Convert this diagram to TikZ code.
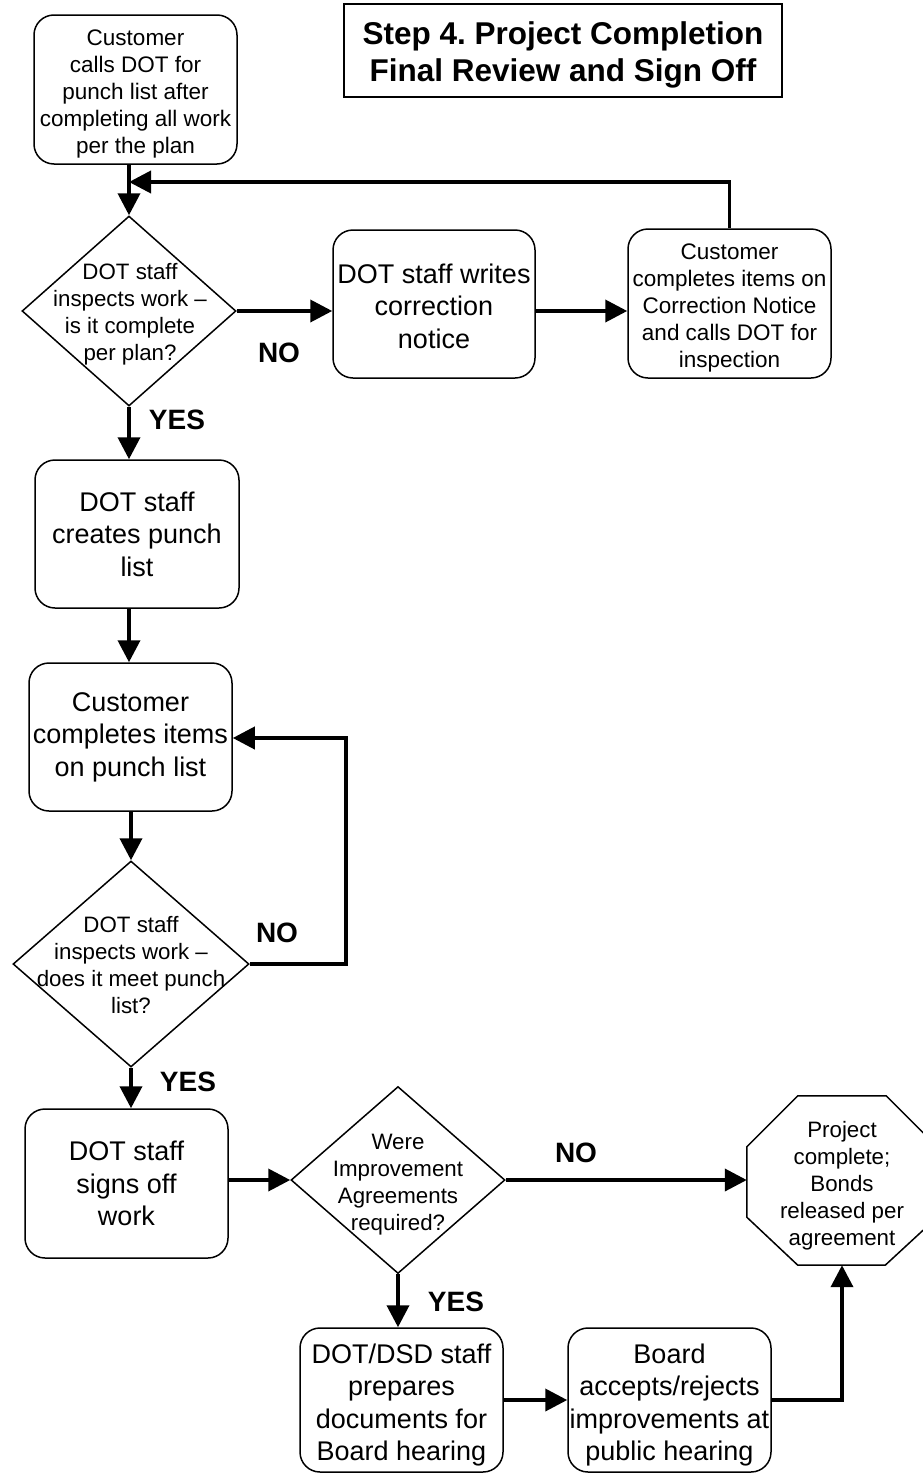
\documentclass[tikz,border=0pt]{standalone}
\usepackage{fontspec}
\setmainfont{Liberation Sans}
\usetikzlibrary{shapes.geometric,arrows.meta,calc}
\frenchspacing
\begin{document}
\begin{tikzpicture}[x=1pt,y=-1pt,
  box/.style={draw, line width=1.5pt, rounded corners=20pt, align=center, inner sep=0pt,
    font=\fontsize{27}{32.5}\selectfont},
  boxs/.style={box, font=\fontsize{22.5}{27}\selectfont},
  dia/.style={draw, diamond, line width=1.5pt, inner sep=0pt},
  dtext/.style={align=center, inner sep=0pt, font=\fontsize{22.3}{27}\selectfont},
  lab/.style={font=\bfseries\fontsize{28}{30}\selectfont, inner sep=0pt},
  conn/.style={line width=3.8pt, -{Triangle[length=22pt,width=22pt]}},
]
\useasboundingbox (0,0) rectangle (922,1475);

% title
\node[draw, line width=1.5pt, minimum width=438pt, minimum height=93pt, inner sep=0pt,
  align=center, font=\bfseries\fontsize{31.5}{37}\selectfont] (title) at (563,50.5)
  {\rule{0pt}{31pt}Step 4. Project Completion\\Final Review and Sign Off};

% nodes
\node[boxs, minimum width=203pt, minimum height=149pt] (b1) at (135.5,89.5)
  {\rule{0pt}{24pt}Customer\\calls DOT for\\punch list after\\completing all work\\per the plan};
\node[dia, minimum width=214pt, minimum height=190pt] (d1) at (129,311) {};
\node[dtext] (d1t) at (130,314) {DOT staff\\inspects work --\\is it complete\\per plan?};
\node[box, minimum width=202pt, minimum height=148pt] (b2) at (434,304)
  {\rule{0pt}{24pt}DOT staff writes\\correction\\notice};
\node[boxs, minimum width=203pt, minimum height=149pt] (b3) at (729.5,303.5)
  {\rule{0pt}{24pt}Customer\\completes items on\\Correction Notice\\and calls DOT for\\inspection};
\node[box, minimum width=204pt, minimum height=148pt] (b4) at (137,534)
  {DOT staff\\creates punch\\list};
\node[box, minimum width=203pt, minimum height=148pt] (b5) at (130.5,737)
  {Customer\\completes items\\on punch list};
\node[dia, minimum width=236pt, minimum height=206pt] (d2) at (131,964) {};
\node[dtext] (d2t) at (131,965) {DOT staff\\inspects work --\\does it meet punch\\list?};
\node[box, minimum width=203pt, minimum height=149pt] (b6) at (126.5,1183.5)
  {DOT staff\\signs off\\work};
\node[dia, minimum width=214pt, minimum height=187pt] (d3) at (398,1180) {};
\node[dtext] (d3t) at (398,1185) {Were\\Improvement\\Agreements\\required?};
\node[minimum width=190pt, minimum height=169pt, inner sep=0pt] (oct) at (842,1180.5) {};
\node[dtext] (octt) at (842,1186) {Project\\complete;\\Bonds\\released per\\agreement};
\draw[line width=1.5pt]
  ($(oct.north west)+(51,0)$) -- ($(oct.north east)+(-51,0)$) -- ($(oct.north east)+(0,51)$)
  -- ($(oct.south east)+(0,-48)$) -- ($(oct.south east)+(-52,0)$) -- ($(oct.south west)+(51,0)$)
  -- ($(oct.south west)+(0,-48)$) -- ($(oct.north west)+(0,51)$) -- cycle;
\node[box, minimum width=203pt, minimum height=144pt] (b7) at (401.5,1400)
  {\rule{0pt}{30pt}DOT/DSD staff\\prepares\\documents for\\Board hearing};
\node[box, minimum width=203pt, minimum height=144pt] (b8) at (669.5,1400)
  {\rule{0pt}{30pt}Board\\accepts/rejects\\improvements at\\public hearing};

% labels
\node[lab] (no1) at (279,353) {NO};
\node[lab] (yes1) at (177,420) {YES};
\node[lab] (no2) at (277,933) {NO};
\node[lab] (yes2) at (188,1082) {YES};
\node[lab] (no3) at (576,1153) {NO};
\node[lab] (yes3) at (456,1302) {YES};

% connectors
\coordinate (j1) at (129,182);
\coordinate (l2) at (346,738);
\draw[conn] (b1.south -| d1.north) -- (d1.north);
\draw[conn] (b3.north) |- (j1);
\draw[conn] (d1.east) -- (d1.east -| b2.west);
\draw[conn] (d1.east -| b2.east) -- (d1.east -| b3.west);
\draw[conn] (d1.south) -- (d1.south |- b4.north);
\draw[conn] (b4.south -| d1.south) -- (b5.north -| d1.south);
\draw[conn] (d2.north |- b5.south) -- (d2.north);
\draw[conn] (d2.east) -| (l2) -- (l2 -| b5.east);
\draw[conn] (d2.south) -- (d2.south |- b6.north);
\draw[conn] (b6.east |- d3.west) -- (d3.west);
\draw[conn] (d3.east) -- (d3.east -| oct.west);
\draw[conn] (d3.south) -- (d3.south |- b7.north);
\draw[conn] (b7.east) -- (b8.west);
\draw[conn] (b8.east) -| (oct.south);
\end{tikzpicture}
\end{document}
